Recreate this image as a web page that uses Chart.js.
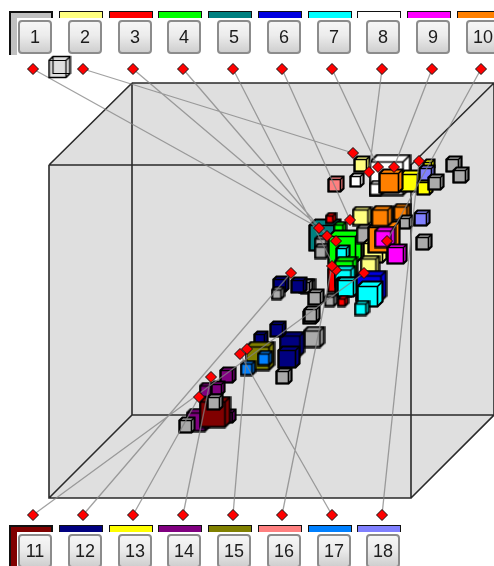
<!DOCTYPE html>
<html>
<head>
<meta charset="utf-8">
<script src="https://cdn.jsdelivr.net/npm/chart.js@4"></script>
<style>
html,body{margin:0;padding:0;background:#fff;overflow:hidden}
#wrap{position:relative;width:494px;height:566px;overflow:hidden}
canvas{position:absolute;left:0;top:0}
.tab{position:absolute;box-sizing:border-box;width:44px;height:7px;border:1.5px solid #111;border-bottom:0}
.tab.sel{border-width:2px 2px 0 2px}
.bar{position:absolute;box-sizing:border-box;width:8px;border-left:2px solid #111}
.btn{position:absolute;box-sizing:border-box;width:34px;height:34px;border:2px solid #8c8c8c;border-radius:4px;
background:linear-gradient(#f6f6f6,#ececec 45%,#cfcfcf);font:18px "Liberation Sans",sans-serif;color:#1c1c1c;text-align:center;line-height:30px}
</style>
</head>
<body>
<div id="wrap">
<canvas id="chart" width="494" height="566"></canvas>
</div>
<script>

// series 1-10 sit along the top, 11-18 along the bottom
let topLabels=["1","2","3","4","5","6","7","8","9","10"]
let bottomLabels=["11","12","13","14","15","16","17","18"]

let seriesColors=["#aaaaaa","#ffff80","#ff0000","#00ff00","#008080","#0000e0","#00ffff","#ffffff","#ff00ff","#ff8000",
"#800000","#000080","#ffff00","#800080","#808000","#ff8080","#0080ff","#8080ff"]

// box wireframe, null breaks the line
let boxShapeX=[49,132,494,494,411,49]
let boxShapeY=[165,83,83,415,498,498]
let boxEdgeX=[132,494,494,132,132,null,49,411,411,49,49,null,49,132,null,411,494,null,411,494,null,49,132]
let boxEdgeY=[83,83,415,415,83,null,165,165,498,498,165,null,165,83,null,165,83,null,498,415,null,498,415]

// label markers and where each leader ends
let markerX=[33,83,133,183,233,282,332,382,432,481,33,83,133,183,233,282,332,382]
let markerY=[69,69,69,69,69,69,69,69,69,69,515,515,515,515,515,515,515,515]
let anchorX=[319,353,336,327,336,350,378,369,394,387,364,291,199,211,247,332,240,419]
let anchorY=[228,153,241,236,270,220,167,172,167,241,273,273,397,377,349,266,354,161]

// cubes, back to front. centre, outer size, series number
let cubeX=[454,461,362,336,390,429,357,377,411,425,391,427,436,
402,382,362,422,406,
325,322,322,331,340,345,343,366,375,384,382,385,397,424,
342,370,346,345,345,371,347,370,362,331,343,
308,306,299,281,278,316,311,312,314,292,289,278,284,
261,260,265,248,
228,207,218,229,198,215,215,187]
let cubeY=[164,175,164,184,175,165,180,188,181,187,181,173,182,
212,217,216,218,222,
235,243,251,218,228,247,252,234,251,237,216,237,254,242,
278,265,268,276,287,286,287,294,308,300,301,
286,286,285,284,293,297,316,314,337,344,357,329,376,
338,356,358,368,
375,390,388,416,420,412,402,425]
let cubeSize=[15,15,15,15,40,11,13,14,21,15,23,15,15,
16,20,18,15,13,
31,14,14,10,12,33,13,18,23,31,20,20,19,15,
28,18,22,20,19,30,19,25,14,12,10,
14,13,15,15,12,15,15,15,20,24,21,15,15,
13,28,14,14,
15,14,13,13,22,30,15,15]
let cubeSeries=[1,1,2,16,8,13,8,8,13,13,10,18,1,
10,10,2,18,1,
5,1,1,3,4,4,7,1,2,10,10,9,9,1,
3,2,4,7,7,6,7,7,7,1,3,
1,1,12,12,1,1,1,1,1,12,12,12,1,
12,15,17,17,
14,14,14,14,14,11,1,1]

let iconX=[59.5]
let iconY=[67]

function cubeImage(size,color,depth,line,wire){

let c=document.createElement("canvas")
c.width=size+2
c.height=size+2

let g=c.getContext("2d")
let a=1.5
let b=size+0.5
let d=depth

g.lineJoin="miter"
g.lineWidth=line
g.strokeStyle="#000"
g.fillStyle=color

g.beginPath()
g.moveTo(a,a+d)
g.lineTo(a+d,a)
g.lineTo(b,a)
g.lineTo(b,b-d)
g.lineTo(b-d,b)
g.lineTo(a,b)
g.closePath()
g.fill()
g.stroke()

g.lineWidth=line*0.75

g.beginPath()
g.rect(a,a+d,b-d-a,b-d-a)
g.moveTo(b-d,a+d)
g.lineTo(b,a)
if(wire){
g.rect(a+d,a,b-d-a,b-d-a)
}
g.stroke()

return c

}

let cubeImages=cubeX.map((x,i)=>cubeImage(cubeSize[i]+1,seriesColors[cubeSeries[i]-1],Math.max(3,Math.round(cubeSize[i]*0.18)),2.2,false))
let iconImage=cubeImage(22,"#dedede",4,1.6,true)

let cubePoints=cubeX.map((x,i)=>({x:x,y:cubeY[i]}))
let markerPoints=markerX.map((x,i)=>({x:x,y:markerY[i]})).concat(anchorX.map((x,i)=>({x:x,y:anchorY[i]})))

let leaderPoints=[]
markerX.forEach((x,i)=>{
leaderPoints.push({x:x,y:markerY[i]},{x:anchorX[i],y:anchorY[i]},{x:null,y:null})
})

new Chart(document.getElementById("chart"),{

type:"scatter",

data:{
datasets:[
{label:"box",order:6,showLine:true,data:boxShapeX.map((x,i)=>({x:x,y:boxShapeY[i]})),fill:"shape",backgroundColor:"#dfdfdf",borderWidth:0,pointRadius:0},
{label:"edges",order:5,showLine:true,data:boxEdgeX.map((x,i)=>({x:x,y:boxEdgeY[i]})),borderColor:"#2a2a2a",borderWidth:1.6,pointRadius:0},
{label:"cubes",order:3,data:cubePoints,pointRadius:4,pointStyle:(ctx)=>cubeImages[ctx.dataIndex]},
{label:"leaders",order:2.5,showLine:true,data:leaderPoints,borderColor:"rgba(130,130,130,0.75)",borderWidth:1.3,pointRadius:0},
{label:"icon",order:2,data:[{x:iconX[0],y:iconY[0]}],pointRadius:4,pointStyle:iconImage},
{label:"markers",order:1,data:markerPoints,pointStyle:"rectRot",pointRadius:5.5,backgroundColor:"#ff0000",borderColor:"#111",borderWidth:1}
]
},

options:{
responsive:false,
animation:false,
layout:{padding:0,autoPadding:false},
plugins:{legend:{display:false},tooltip:{enabled:false}},
scales:{
x:{type:"linear",min:0,max:494,display:false},
y:{type:"linear",min:0,max:566,reverse:true,display:false}
}
}

})

function addButtons(labels,offset,tabTop,btnTop,barHeight){

let wrap=document.getElementById("wrap")

labels.forEach((text,i)=>{

let left=Math.round(9+49.75*i)
let color=i==0&&offset==0?"#c0c0c0":seriesColors[i+offset]

let tab=document.createElement("div")
tab.className=i==0?"tab sel":"tab"
tab.style.left=left+"px"
tab.style.top=tabTop+"px"
tab.style.background=color
wrap.appendChild(tab)

if(i==0){
let bar=document.createElement("div")
bar.className="bar"
bar.style.left=left+"px"
bar.style.top=(tabTop+7)+"px"
bar.style.height=barHeight+"px"
bar.style.background=color
wrap.appendChild(bar)
}

let btn=document.createElement("div")
btn.className="btn"
btn.style.left=(left+9)+"px"
btn.style.top=btnTop+"px"
btn.innerText=text
wrap.appendChild(btn)

})

}

addButtons(topLabels,0,11,20,37)
addButtons(bottomLabels,10,525,534,34)

</script>
</body>
</html>
